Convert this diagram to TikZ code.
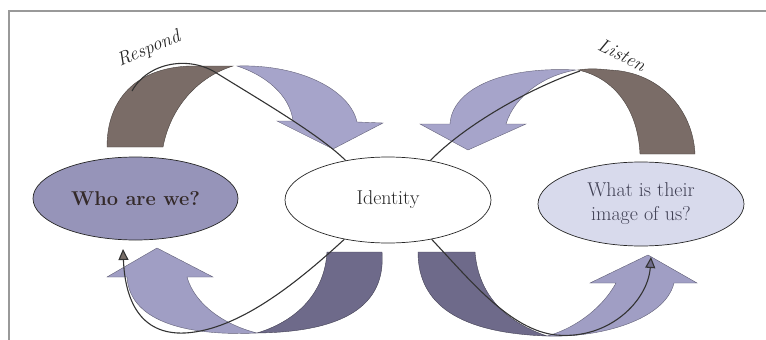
\documentclass[tikz,border=0pt]{standalone}
\usetikzlibrary{shapes.geometric,arrows.meta}

\definecolor{brownband}{RGB}{122,108,103}
\definecolor{lavTop}{RGB}{166,164,202}
\definecolor{lavBot}{RGB}{160,158,196}
\definecolor{darkBand}{RGB}{110,106,138}
\definecolor{whoFill}{RGB}{150,148,185}
\definecolor{imgFill}{RGB}{216,218,236}
\definecolor{whoText}{RGB}{52,42,42}
\definecolor{imgText}{RGB}{64,64,84}
\definecolor{idText}{RGB}{40,40,40}
\definecolor{tipBrown}{RGB}{120,110,104}
\definecolor{tipPurple}{RGB}{112,108,140}

\tikzset{
  frame/.style={draw=black!40, line width=2pt},
  bubble/.style={ellipse, draw=black!85, line width=0.7pt, minimum width=206pt,
    minimum height=84pt, inner sep=0pt, align=center},
  ribbon/.style={fill=#1, draw=#1!60!black, line width=0.4pt},
  flow/.style={draw=black!80, line width=1.1pt},
  tipped/.style={-{Triangle[length=11pt,width=10pt,fill=#1]}},
  lbl/.style={font=\fontsize{19}{22}\selectfont\itshape, text=black!85, inner sep=0pt}
}

\begin{document}
\begin{tikzpicture}[x=1pt,y=-1pt]
\useasboundingbox (0,0) rectangle (766,340);

% page frame
\draw[frame] (9,340) -- (9,11) -- (766,11);

% the three bubbles
\node[bubble, fill=whoFill, minimum width=205pt, minimum height=83pt,
  font=\fontsize{20}{24}\selectfont\bfseries, text=whoText] (who) at (135.5,198.5) {Who are we?};
\node[bubble, fill=white, minimum height=86pt,
  font=\fontsize{20}{24}\selectfont, text=idText] (id) at (388,200) {Identity};
\node[bubble, fill=imgFill, minimum height=84pt,
  font=\fontsize{20}{24}\selectfont, text=imgText] (img) at (641,204) {What is their\\image of us?};

% free ends of the connectors
\coordinate (respEnd) at (132,91);
\coordinate (listenEnd) at (580,71);
\coordinate (whoTip) at (123,249);
\coordinate (imgTip) at (651,257);

% top left: respond ribbon
\path[ribbon=brownband] (107,147) -- (163,147) .. controls (170,110) and (195,78) .. (233,66)
  -- (190,66) .. controls (135,68) and (107,100) .. (107,147) -- cycle;
\path[ribbon=lavTop] (237,66) .. controls (300,64) and (350,90) .. (357,122) -- (383,123)
  -- (333,149) -- (277,121) -- (293,121) .. controls (290,95) and (265,75) .. (237,66) -- cycle;

% top right: listen ribbon
\path[ribbon=brownband] (578,70) .. controls (590,68) and (600,69) .. (610,70)
  .. controls (660,72) and (693,110) .. (695,154) -- (640,154)
  .. controls (638,110) and (615,78) .. (578,70) -- cycle;
\path[ribbon=lavTop] (576,70) .. controls (500,66) and (452,90) .. (450,124) -- (420,124)
  -- (468,150) -- (526,124) -- (506,124) .. controls (515,95) and (545,75) .. (576,70) -- cycle;

% bottom left ribbon
\path[ribbon=darkBand] (327,252) -- (382,252) .. controls (386,305) and (345,332) .. (257,333)
  .. controls (300,320) and (325,290) .. (327,252) -- cycle;
\path[ribbon=lavBot] (257,333) .. controls (195,336) and (130,325) .. (127,277) -- (107,277)
  -- (157,248) -- (213,277) -- (187,277) .. controls (195,305) and (225,325) .. (257,333) -- cycle;

% bottom right ribbon
\path[ribbon=darkBand] (418,252) -- (475,252) .. controls (478,290) and (500,320) .. (547,336)
  .. controls (460,333) and (418,305) .. (418,252) -- cycle;
\path[ribbon=lavBot] (547,336) .. controls (600,338) and (665,320) .. (674,283) -- (697,283)
  -- (648,255) -- (590,283) -- (616,283) .. controls (600,312) and (570,330) .. (547,336) -- cycle;

% connectors
\draw[flow] (id.137) .. controls (320,135) and (260,100) .. (218,74)
  .. controls (190,55) and (148,62) .. (respEnd);
\draw[flow] (id.43) .. controls (465,125) and (530,88) .. (listenEnd);
\draw[flow, tipped=tipBrown] (id.222) .. controls (300,280) and (240,330) .. (185,333)
  .. controls (140,335) and (125,300) .. (whoTip);
\draw[flow, tipped=tipPurple] (id.318) .. controls (470,280) and (510,330) .. (556,335)
  .. controls (610,340) and (648,300) .. (imgTip);

% labels
\node[lbl, rotate=23] (respond) at (149,49) {Respond};
\node[lbl, rotate=-26] (listen) at (622,55) {Listen};
\end{tikzpicture}
\end{document}
